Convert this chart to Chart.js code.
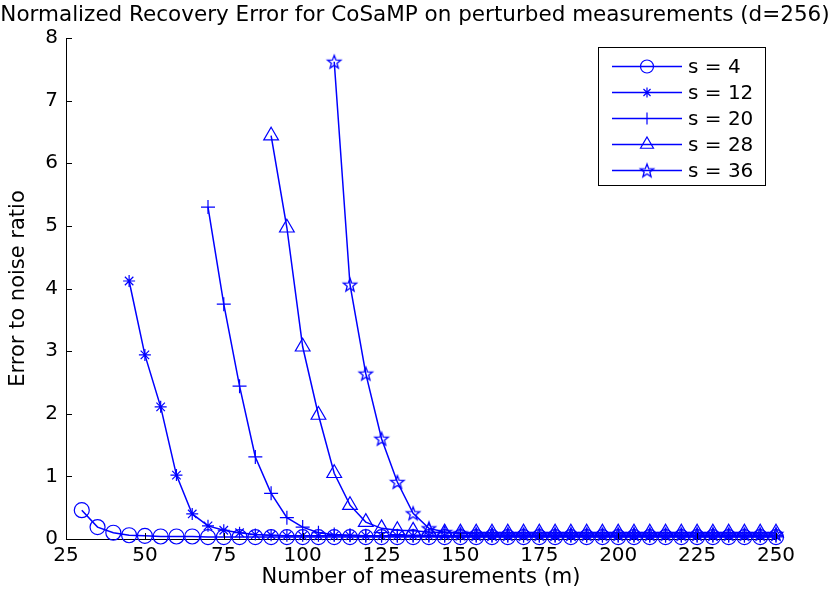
<!DOCTYPE html>
<html>
<head>
<meta charset="utf-8">
<script src="https://cdn.jsdelivr.net/npm/chart.js@4.4.1/dist/chart.umd.min.js"></script>
<style>
  html, body { margin: 0; padding: 0; background: #fff; }
  #wrap { width: 831px; height: 595px; position: relative; }
</style>
</head>
<body>
<div id="wrap"><canvas id="c" width="831" height="595"></canvas></div>
<script>
// ---- Data ----
const chartTitle = 'Normalized Recovery Error for CoSaMP on perturbed measurements (d=256)';
const xTitle = 'Number of measurements (m)';
const yTitle = 'Error to noise ratio';
const seriesLabels = ['s = 4', 's = 12', 's = 20', 's = 28', 's = 36'];
const measurements = [30, 35, 40, 45, 50, 55, 60, 65, 70, 75, 80, 85, 90, 95, 100, 105, 110, 115, 120, 125,
  130, 135, 140, 145, 150, 155, 160, 165, 170, 175, 180, 185, 190, 195, 200, 205, 210, 215, 220, 225,
  230, 235, 240, 245, 250];
const xTicks = [25, 50, 75, 100, 125, 150, 175, 200, 225, 250];
const yTicks = [0, 1, 2, 3, 4, 5, 6, 7, 8];
const s4 = [0.46, 0.19, 0.10, 0.06, 0.05, 0.04, 0.04, 0.04, 0.03, 0.03, 0.03, 0.03, 0.03, 0.03, 0.03, 0.03,
  0.03, 0.03, 0.03, 0.03, 0.03, 0.03, 0.03, 0.03, 0.03, 0.03, 0.03, 0.03, 0.03, 0.03, 0.03, 0.03, 0.03,
  0.03, 0.03, 0.03, 0.03, 0.03, 0.03, 0.03, 0.03, 0.03, 0.03, 0.03, 0.03];
const s12 = [null, null, null, 4.12, 2.94, 2.11, 1.02, 0.40, 0.21, 0.14, 0.10, 0.07, 0.06, 0.05, 0.05, 0.05,
  0.05, 0.05, 0.05, 0.05, 0.05, 0.05, 0.05, 0.05, 0.05, 0.05, 0.05, 0.05, 0.05, 0.05, 0.05, 0.05, 0.05,
  0.05, 0.05, 0.05, 0.05, 0.05, 0.05, 0.05, 0.05, 0.05, 0.05, 0.05, 0.05];
const s20 = [null, null, null, null, null, null, null, null, 5.30, 3.75, 2.44, 1.31, 0.73, 0.34, 0.19, 0.10,
  0.07, 0.06, 0.05, 0.05, 0.05, 0.05, 0.05, 0.05, 0.05, 0.05, 0.05, 0.05, 0.05, 0.05, 0.05, 0.05, 0.05,
  0.05, 0.05, 0.05, 0.05, 0.05, 0.05, 0.05, 0.05, 0.05, 0.05, 0.05, 0.05];
const s28 = [null, null, null, null, null, null, null, null, null, null, null, null, 6.44, 4.97, 3.07, 1.98,
  1.05, 0.54, 0.27, 0.17, 0.14, 0.13, 0.11, 0.10, 0.10, 0.10, 0.10, 0.10, 0.10, 0.10, 0.10, 0.10, 0.10,
  0.10, 0.10, 0.10, 0.10, 0.10, 0.10, 0.10, 0.10, 0.10, 0.10, 0.10, 0.10];
const s36 = [null, null, null, null, null, null, null, null, null, null, null, null, null, null, null, null,
  7.62, 4.06, 2.64, 1.60, 0.91, 0.41, 0.17, 0.11, 0.09, 0.08, 0.08, 0.08, 0.08, 0.08, 0.08, 0.08, 0.08,
  0.08, 0.08, 0.08, 0.08, 0.08, 0.08, 0.08, 0.08, 0.08, 0.08, 0.08, 0.08];

// ---- Styling ----
const BLUE = '#0000ff';
const FONT = "'DejaVu Sans', 'Liberation Sans', Arial, sans-serif";

function makePentagram(r) {
  const size = Math.ceil(r * 2 + 4);
  const cv = document.createElement('canvas');
  cv.width = size; cv.height = size;
  const g = cv.getContext('2d');
  const cx = size / 2, cy = size / 2 + 0.5;
  const inner = r * 0.42;
  g.beginPath();
  for (let i = 0; i < 10; i++) {
    const rr = i % 2 === 0 ? r : inner;
    const a = -Math.PI / 2 + i * Math.PI / 5;
    const px = cx + rr * Math.cos(a), py = cy + rr * Math.sin(a);
    if (i === 0) g.moveTo(px, py); else g.lineTo(px, py);
  }
  g.closePath();
  g.strokeStyle = BLUE;
  g.lineWidth = 1.3;
  g.stroke();
  return cv;
}
const pentagram = makePentagram(7);

const markerStyles = ['circle', 'star', 'cross', 'triangle', pentagram];
const markerRadius = [7.5, 6, 7, 8.5, 7];
const legendRadius = [6.5, 5, 6, 7.5, 7];
const seriesValues = [s4, s12, s20, s28, s36];

const datasets = seriesValues.map((vals, k) => ({
  label: seriesLabels[k],
  data: measurements.map((m, i) => ({ x: m, y: vals[i] })).filter(p => p.y !== null),
  borderColor: BLUE,
  backgroundColor: 'rgba(0,0,0,0)',
  borderWidth: 1.5,
  pointStyle: markerStyles[k],
  pointRadius: markerRadius[k],
  pointBorderWidth: 1.2,
  pointBorderColor: BLUE,
  pointBackgroundColor: 'rgba(0,0,0,0)',
  tension: 0,
  clip: false
}));

// ---- Plugins ----
const decorPlugin = {
  id: 'decor',
  afterDraw(chart) {
    const ctx = chart.ctx;
    const xs = chart.scales.x, ys = chart.scales.y;
    const area = chart.chartArea;
    ctx.save();
    // inward tick marks
    ctx.strokeStyle = '#000';
    ctx.lineWidth = 1;
    ctx.beginPath();
    xTicks.forEach(v => {
      const px = Math.round(xs.getPixelForValue(v)) + 0.5;
      ctx.moveTo(px, area.bottom);
      ctx.lineTo(px, area.bottom - 6);
    });
    yTicks.forEach(v => {
      const py = Math.round(ys.getPixelForValue(v)) + 0.5;
      ctx.moveTo(area.left, py);
      ctx.lineTo(area.left + 6, py);
    });
    ctx.stroke();

    // title
    ctx.fillStyle = '#000';
    ctx.font = '21.5px ' + FONT;
    ctx.textAlign = 'center';
    ctx.textBaseline = 'middle';
    ctx.fillText(chartTitle, 415, 15);

    // legend
    const bx = 598, by = 47, bw = 167, bh = 138;
    ctx.fillStyle = '#fff';
    ctx.fillRect(bx, by, bw, bh);
    ctx.strokeStyle = '#000';
    ctx.lineWidth = 1;
    ctx.strokeRect(bx + 0.5, by + 0.5, bw, bh);
    const rowY = [66.5, 92.5, 118.5, 144.5, 170.5];
    chart.data.datasets.forEach((ds, k) => {
      const y = rowY[k];
      ctx.strokeStyle = BLUE;
      ctx.lineWidth = 1.5;
      ctx.beginPath();
      ctx.moveTo(612, y);
      ctx.lineTo(682, y);
      ctx.stroke();
      ctx.lineWidth = 1.2;
      ctx.fillStyle = 'rgba(0,0,0,0)';
      ctx.strokeStyle = BLUE;
      Chart.helpers.drawPoint(ctx, {
        pointStyle: ds.pointStyle, radius: legendRadius[k], rotation: 0, borderWidth: 1.2
      }, 647, y);
      ctx.fillStyle = '#000';
      ctx.font = '20px ' + FONT;
      ctx.textAlign = 'left';
      ctx.textBaseline = 'middle';
      ctx.fillText(ds.label, 688, y + 1);
    });
    ctx.restore();
  }
};

new Chart(document.getElementById('c'), {
  type: 'line',
  data: { datasets },
  options: {
    responsive: false,
    animation: false,
    events: [],
    layout: { padding: { top: 38, right: 55, bottom: 0, left: 0 } },
    plugins: { legend: { display: false }, title: { display: false }, tooltip: { enabled: false } },
    scales: {
      x: {
        type: 'linear', min: 25, max: 250,
        afterFit(s) { s.height = 56; },
        afterBuildTicks(s) { s.ticks = xTicks.map(v => ({ value: v })); },
        grid: { display: true, drawOnChartArea: false, drawTicks: false },
        border: { display: true, color: '#000', width: 1 },
        ticks: { color: '#000', font: { family: FONT, size: 20 }, padding: 5, maxRotation: 0, autoSkip: false },
        title: { display: true, text: xTitle, color: '#000', font: { family: FONT, size: 21 }, padding: { top: 0, bottom: 5 } }
      },
      y: {
        type: 'linear', min: 0, max: 8,
        afterFit(s) { s.width = 66; },
        afterBuildTicks(s) { s.ticks = yTicks.map(v => ({ value: v })); },
        grid: { display: true, drawOnChartArea: false, drawTicks: false },
        border: { display: true, color: '#000', width: 1 },
        ticks: { color: '#000', font: { family: FONT, size: 20 }, padding: 8, autoSkip: false },
        title: { display: true, text: yTitle, color: '#000', font: { family: FONT, size: 21 }, padding: { top: 6, bottom: 0 } }
      }
    }
  },
  plugins: [decorPlugin]
});
</script>
</body>
</html>
